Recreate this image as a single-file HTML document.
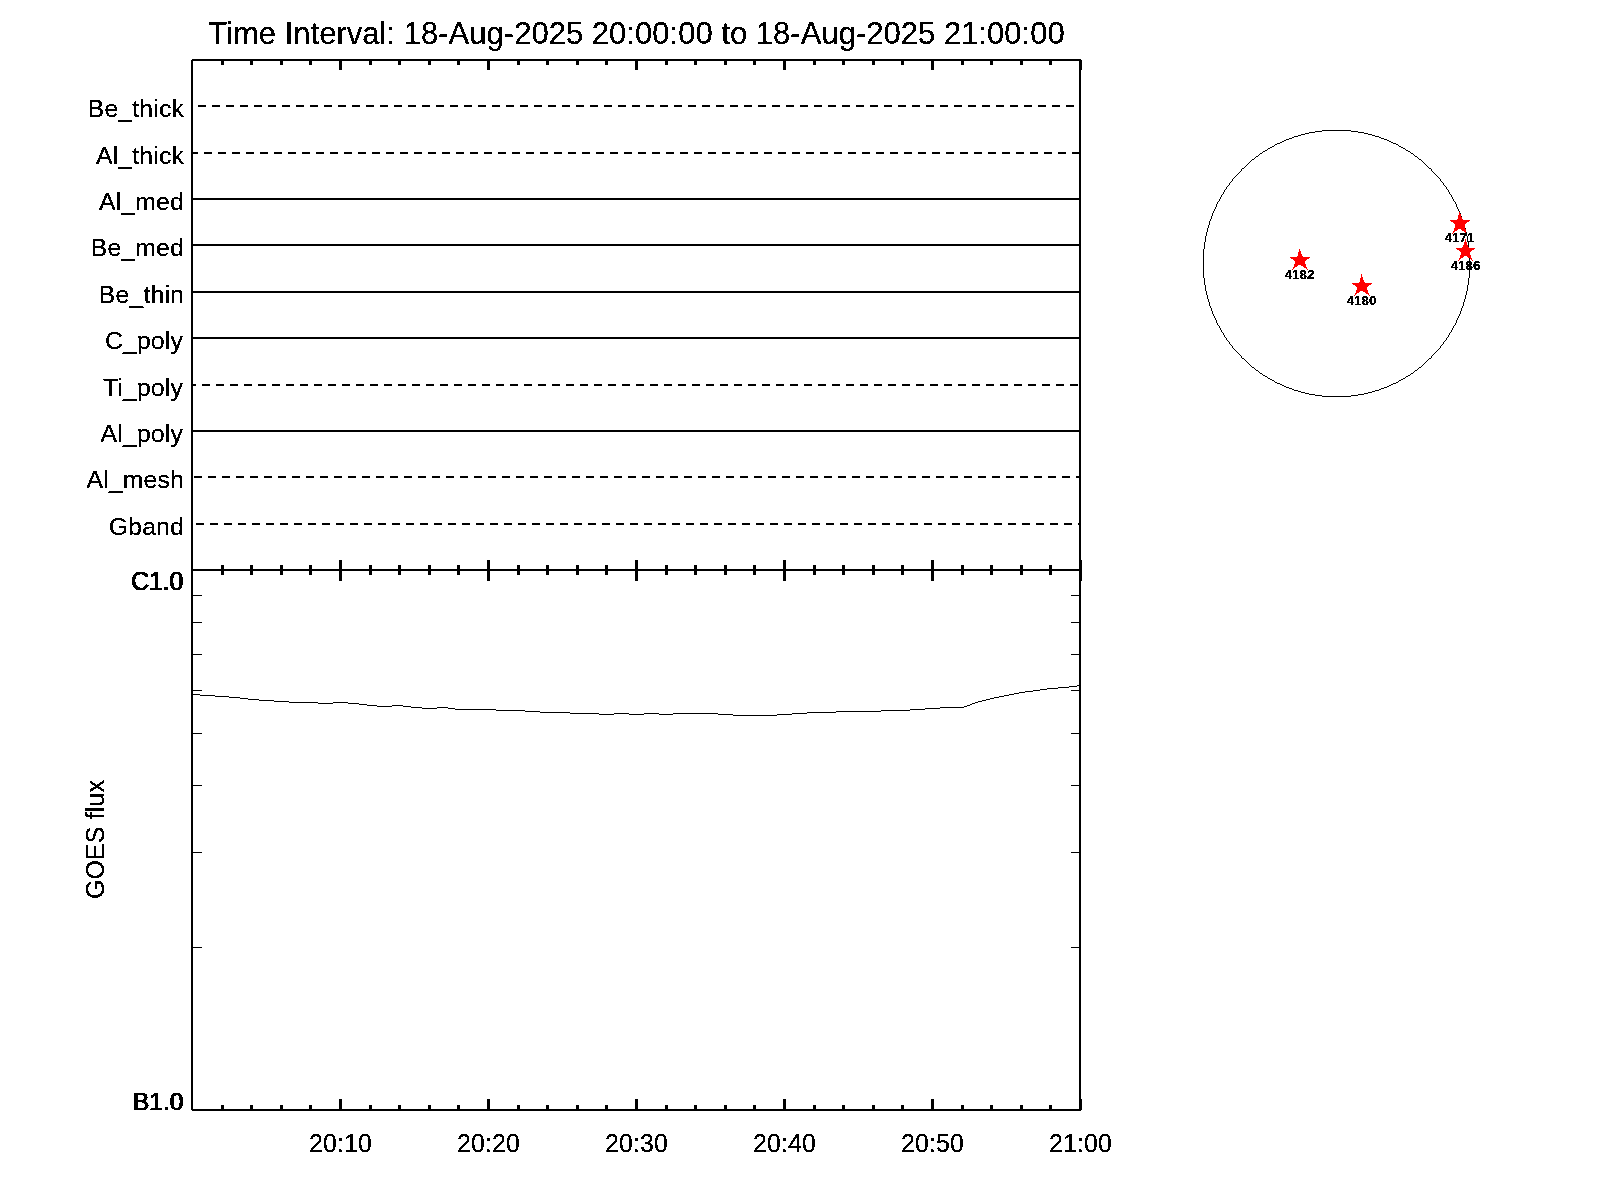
<!DOCTYPE html>
<html><head><meta charset="utf-8"><title>Time Interval plot</title>
<style>html,body{margin:0;padding:0;background:#fff;}svg{display:block;}text{font-family:"Liberation Sans",sans-serif;fill:#000;}</style>
</head><body>
<svg width="1600" height="1200" viewBox="0 0 1600 1200">
<defs><filter id="bin" x="-5%" y="-20%" width="110%" height="140%" color-interpolation-filters="sRGB"><feComponentTransfer><feFuncA type="discrete" tableValues="0 1 1"/></feComponentTransfer></filter></defs>
<rect x="0" y="0" width="1600" height="1200" fill="#fff"/>
<g fill="#000" shape-rendering="crispEdges">
<rect x="191" y="59" width="2" height="1052"/>
<rect x="1079" y="59" width="2" height="1052"/>
<rect x="191" y="59" width="890" height="2"/>
<rect x="191" y="569" width="890" height="2"/>
<rect x="191" y="1109" width="890" height="2"/>
<rect x="221" y="59" width="3" height="6"/>
<rect x="221" y="565" width="3" height="10"/>
<rect x="221" y="1105" width="3" height="6"/>
<rect x="250" y="59" width="3" height="6"/>
<rect x="250" y="565" width="3" height="10"/>
<rect x="250" y="1105" width="3" height="6"/>
<rect x="280" y="59" width="3" height="6"/>
<rect x="280" y="565" width="3" height="10"/>
<rect x="280" y="1105" width="3" height="6"/>
<rect x="309" y="59" width="3" height="6"/>
<rect x="309" y="565" width="3" height="10"/>
<rect x="309" y="1105" width="3" height="6"/>
<rect x="339" y="59" width="3" height="11"/>
<rect x="339" y="560" width="3" height="21"/>
<rect x="339" y="1099" width="3" height="12"/>
<rect x="369" y="59" width="3" height="6"/>
<rect x="369" y="565" width="3" height="10"/>
<rect x="369" y="1105" width="3" height="6"/>
<rect x="398" y="59" width="3" height="6"/>
<rect x="398" y="565" width="3" height="10"/>
<rect x="398" y="1105" width="3" height="6"/>
<rect x="428" y="59" width="3" height="6"/>
<rect x="428" y="565" width="3" height="10"/>
<rect x="428" y="1105" width="3" height="6"/>
<rect x="457" y="59" width="3" height="6"/>
<rect x="457" y="565" width="3" height="10"/>
<rect x="457" y="1105" width="3" height="6"/>
<rect x="487" y="59" width="3" height="11"/>
<rect x="487" y="560" width="3" height="21"/>
<rect x="487" y="1099" width="3" height="12"/>
<rect x="517" y="59" width="3" height="6"/>
<rect x="517" y="565" width="3" height="10"/>
<rect x="517" y="1105" width="3" height="6"/>
<rect x="546" y="59" width="3" height="6"/>
<rect x="546" y="565" width="3" height="10"/>
<rect x="546" y="1105" width="3" height="6"/>
<rect x="576" y="59" width="3" height="6"/>
<rect x="576" y="565" width="3" height="10"/>
<rect x="576" y="1105" width="3" height="6"/>
<rect x="605" y="59" width="3" height="6"/>
<rect x="605" y="565" width="3" height="10"/>
<rect x="605" y="1105" width="3" height="6"/>
<rect x="635" y="59" width="3" height="11"/>
<rect x="635" y="560" width="3" height="21"/>
<rect x="635" y="1099" width="3" height="12"/>
<rect x="665" y="59" width="3" height="6"/>
<rect x="665" y="565" width="3" height="10"/>
<rect x="665" y="1105" width="3" height="6"/>
<rect x="694" y="59" width="3" height="6"/>
<rect x="694" y="565" width="3" height="10"/>
<rect x="694" y="1105" width="3" height="6"/>
<rect x="724" y="59" width="3" height="6"/>
<rect x="724" y="565" width="3" height="10"/>
<rect x="724" y="1105" width="3" height="6"/>
<rect x="753" y="59" width="3" height="6"/>
<rect x="753" y="565" width="3" height="10"/>
<rect x="753" y="1105" width="3" height="6"/>
<rect x="783" y="59" width="3" height="11"/>
<rect x="783" y="560" width="3" height="21"/>
<rect x="783" y="1099" width="3" height="12"/>
<rect x="813" y="59" width="3" height="6"/>
<rect x="813" y="565" width="3" height="10"/>
<rect x="813" y="1105" width="3" height="6"/>
<rect x="842" y="59" width="3" height="6"/>
<rect x="842" y="565" width="3" height="10"/>
<rect x="842" y="1105" width="3" height="6"/>
<rect x="872" y="59" width="3" height="6"/>
<rect x="872" y="565" width="3" height="10"/>
<rect x="872" y="1105" width="3" height="6"/>
<rect x="901" y="59" width="3" height="6"/>
<rect x="901" y="565" width="3" height="10"/>
<rect x="901" y="1105" width="3" height="6"/>
<rect x="931" y="59" width="3" height="11"/>
<rect x="931" y="560" width="3" height="21"/>
<rect x="931" y="1099" width="3" height="12"/>
<rect x="961" y="59" width="3" height="6"/>
<rect x="961" y="565" width="3" height="10"/>
<rect x="961" y="1105" width="3" height="6"/>
<rect x="990" y="59" width="3" height="6"/>
<rect x="990" y="565" width="3" height="10"/>
<rect x="990" y="1105" width="3" height="6"/>
<rect x="1020" y="59" width="3" height="6"/>
<rect x="1020" y="565" width="3" height="10"/>
<rect x="1020" y="1105" width="3" height="6"/>
<rect x="1049" y="59" width="3" height="6"/>
<rect x="1049" y="565" width="3" height="10"/>
<rect x="1049" y="1105" width="3" height="6"/>
<rect x="1079" y="59" width="3" height="11"/>
<rect x="1079" y="560" width="3" height="21"/>
<rect x="1079" y="1099" width="3" height="12"/>
<rect x="193" y="947" width="9" height="1"/>
<rect x="1071" y="947" width="8" height="1"/>
<rect x="193" y="852" width="9" height="1"/>
<rect x="1071" y="852" width="8" height="1"/>
<rect x="193" y="785" width="9" height="1"/>
<rect x="1071" y="785" width="8" height="1"/>
<rect x="193" y="733" width="9" height="1"/>
<rect x="1071" y="733" width="8" height="1"/>
<rect x="193" y="690" width="9" height="1"/>
<rect x="1071" y="690" width="8" height="1"/>
<rect x="193" y="654" width="9" height="1"/>
<rect x="1071" y="654" width="8" height="1"/>
<rect x="193" y="622" width="9" height="1"/>
<rect x="1071" y="622" width="8" height="1"/>
<rect x="193" y="595" width="9" height="1"/>
<rect x="1071" y="595" width="8" height="1"/>
<rect x="198" y="105" width="8" height="2"/>
<rect x="212" y="105" width="8" height="2"/>
<rect x="226" y="105" width="8" height="2"/>
<rect x="240" y="105" width="8" height="2"/>
<rect x="254" y="105" width="8" height="2"/>
<rect x="268" y="105" width="8" height="2"/>
<rect x="282" y="105" width="8" height="2"/>
<rect x="296" y="105" width="8" height="2"/>
<rect x="310" y="105" width="8" height="2"/>
<rect x="324" y="105" width="8" height="2"/>
<rect x="338" y="105" width="8" height="2"/>
<rect x="352" y="105" width="8" height="2"/>
<rect x="366" y="105" width="8" height="2"/>
<rect x="380" y="105" width="8" height="2"/>
<rect x="394" y="105" width="8" height="2"/>
<rect x="408" y="105" width="8" height="2"/>
<rect x="422" y="105" width="8" height="2"/>
<rect x="436" y="105" width="8" height="2"/>
<rect x="450" y="105" width="8" height="2"/>
<rect x="464" y="105" width="8" height="2"/>
<rect x="478" y="105" width="8" height="2"/>
<rect x="492" y="105" width="8" height="2"/>
<rect x="506" y="105" width="8" height="2"/>
<rect x="520" y="105" width="8" height="2"/>
<rect x="534" y="105" width="8" height="2"/>
<rect x="548" y="105" width="8" height="2"/>
<rect x="562" y="105" width="8" height="2"/>
<rect x="576" y="105" width="8" height="2"/>
<rect x="590" y="105" width="8" height="2"/>
<rect x="604" y="105" width="8" height="2"/>
<rect x="618" y="105" width="8" height="2"/>
<rect x="632" y="105" width="8" height="2"/>
<rect x="646" y="105" width="8" height="2"/>
<rect x="660" y="105" width="8" height="2"/>
<rect x="674" y="105" width="8" height="2"/>
<rect x="688" y="105" width="8" height="2"/>
<rect x="702" y="105" width="8" height="2"/>
<rect x="716" y="105" width="8" height="2"/>
<rect x="730" y="105" width="8" height="2"/>
<rect x="744" y="105" width="8" height="2"/>
<rect x="758" y="105" width="8" height="2"/>
<rect x="772" y="105" width="8" height="2"/>
<rect x="786" y="105" width="8" height="2"/>
<rect x="800" y="105" width="8" height="2"/>
<rect x="814" y="105" width="8" height="2"/>
<rect x="828" y="105" width="8" height="2"/>
<rect x="842" y="105" width="8" height="2"/>
<rect x="856" y="105" width="8" height="2"/>
<rect x="870" y="105" width="8" height="2"/>
<rect x="884" y="105" width="8" height="2"/>
<rect x="898" y="105" width="8" height="2"/>
<rect x="912" y="105" width="8" height="2"/>
<rect x="926" y="105" width="8" height="2"/>
<rect x="940" y="105" width="8" height="2"/>
<rect x="954" y="105" width="8" height="2"/>
<rect x="968" y="105" width="8" height="2"/>
<rect x="982" y="105" width="8" height="2"/>
<rect x="996" y="105" width="8" height="2"/>
<rect x="1010" y="105" width="8" height="2"/>
<rect x="1024" y="105" width="8" height="2"/>
<rect x="1038" y="105" width="8" height="2"/>
<rect x="1052" y="105" width="8" height="2"/>
<rect x="1066" y="105" width="8" height="2"/>
<rect x="193" y="152" width="5" height="2"/>
<rect x="204" y="152" width="8" height="2"/>
<rect x="218" y="152" width="8" height="2"/>
<rect x="232" y="152" width="8" height="2"/>
<rect x="246" y="152" width="8" height="2"/>
<rect x="260" y="152" width="8" height="2"/>
<rect x="274" y="152" width="8" height="2"/>
<rect x="288" y="152" width="8" height="2"/>
<rect x="302" y="152" width="8" height="2"/>
<rect x="316" y="152" width="8" height="2"/>
<rect x="330" y="152" width="8" height="2"/>
<rect x="344" y="152" width="8" height="2"/>
<rect x="358" y="152" width="8" height="2"/>
<rect x="372" y="152" width="8" height="2"/>
<rect x="386" y="152" width="8" height="2"/>
<rect x="400" y="152" width="8" height="2"/>
<rect x="414" y="152" width="8" height="2"/>
<rect x="428" y="152" width="8" height="2"/>
<rect x="442" y="152" width="8" height="2"/>
<rect x="456" y="152" width="8" height="2"/>
<rect x="470" y="152" width="8" height="2"/>
<rect x="484" y="152" width="8" height="2"/>
<rect x="498" y="152" width="8" height="2"/>
<rect x="512" y="152" width="8" height="2"/>
<rect x="526" y="152" width="8" height="2"/>
<rect x="540" y="152" width="8" height="2"/>
<rect x="554" y="152" width="8" height="2"/>
<rect x="568" y="152" width="8" height="2"/>
<rect x="582" y="152" width="8" height="2"/>
<rect x="596" y="152" width="8" height="2"/>
<rect x="610" y="152" width="8" height="2"/>
<rect x="624" y="152" width="8" height="2"/>
<rect x="638" y="152" width="8" height="2"/>
<rect x="652" y="152" width="8" height="2"/>
<rect x="666" y="152" width="8" height="2"/>
<rect x="680" y="152" width="8" height="2"/>
<rect x="694" y="152" width="8" height="2"/>
<rect x="708" y="152" width="8" height="2"/>
<rect x="722" y="152" width="8" height="2"/>
<rect x="736" y="152" width="8" height="2"/>
<rect x="750" y="152" width="8" height="2"/>
<rect x="764" y="152" width="8" height="2"/>
<rect x="778" y="152" width="8" height="2"/>
<rect x="792" y="152" width="8" height="2"/>
<rect x="806" y="152" width="8" height="2"/>
<rect x="820" y="152" width="8" height="2"/>
<rect x="834" y="152" width="8" height="2"/>
<rect x="848" y="152" width="8" height="2"/>
<rect x="862" y="152" width="8" height="2"/>
<rect x="876" y="152" width="8" height="2"/>
<rect x="890" y="152" width="8" height="2"/>
<rect x="904" y="152" width="8" height="2"/>
<rect x="918" y="152" width="8" height="2"/>
<rect x="932" y="152" width="8" height="2"/>
<rect x="946" y="152" width="8" height="2"/>
<rect x="960" y="152" width="8" height="2"/>
<rect x="974" y="152" width="8" height="2"/>
<rect x="988" y="152" width="8" height="2"/>
<rect x="1002" y="152" width="8" height="2"/>
<rect x="1016" y="152" width="8" height="2"/>
<rect x="1030" y="152" width="8" height="2"/>
<rect x="1044" y="152" width="8" height="2"/>
<rect x="1058" y="152" width="8" height="2"/>
<rect x="1072" y="152" width="7" height="2"/>
<rect x="193" y="198" width="886" height="2"/>
<rect x="193" y="244" width="886" height="2"/>
<rect x="193" y="291" width="886" height="2"/>
<rect x="193" y="337" width="886" height="2"/>
<rect x="193" y="384" width="3" height="2"/>
<rect x="202" y="384" width="8" height="2"/>
<rect x="216" y="384" width="8" height="2"/>
<rect x="230" y="384" width="8" height="2"/>
<rect x="244" y="384" width="8" height="2"/>
<rect x="258" y="384" width="8" height="2"/>
<rect x="272" y="384" width="8" height="2"/>
<rect x="286" y="384" width="8" height="2"/>
<rect x="300" y="384" width="8" height="2"/>
<rect x="314" y="384" width="8" height="2"/>
<rect x="328" y="384" width="8" height="2"/>
<rect x="342" y="384" width="8" height="2"/>
<rect x="356" y="384" width="8" height="2"/>
<rect x="370" y="384" width="8" height="2"/>
<rect x="384" y="384" width="8" height="2"/>
<rect x="398" y="384" width="8" height="2"/>
<rect x="412" y="384" width="8" height="2"/>
<rect x="426" y="384" width="8" height="2"/>
<rect x="440" y="384" width="8" height="2"/>
<rect x="454" y="384" width="8" height="2"/>
<rect x="468" y="384" width="8" height="2"/>
<rect x="482" y="384" width="8" height="2"/>
<rect x="496" y="384" width="8" height="2"/>
<rect x="510" y="384" width="8" height="2"/>
<rect x="524" y="384" width="8" height="2"/>
<rect x="538" y="384" width="8" height="2"/>
<rect x="552" y="384" width="8" height="2"/>
<rect x="566" y="384" width="8" height="2"/>
<rect x="580" y="384" width="8" height="2"/>
<rect x="594" y="384" width="8" height="2"/>
<rect x="608" y="384" width="8" height="2"/>
<rect x="622" y="384" width="8" height="2"/>
<rect x="636" y="384" width="8" height="2"/>
<rect x="650" y="384" width="8" height="2"/>
<rect x="664" y="384" width="8" height="2"/>
<rect x="678" y="384" width="8" height="2"/>
<rect x="692" y="384" width="8" height="2"/>
<rect x="706" y="384" width="8" height="2"/>
<rect x="720" y="384" width="8" height="2"/>
<rect x="734" y="384" width="8" height="2"/>
<rect x="748" y="384" width="8" height="2"/>
<rect x="762" y="384" width="8" height="2"/>
<rect x="776" y="384" width="8" height="2"/>
<rect x="790" y="384" width="8" height="2"/>
<rect x="804" y="384" width="8" height="2"/>
<rect x="818" y="384" width="8" height="2"/>
<rect x="832" y="384" width="8" height="2"/>
<rect x="846" y="384" width="8" height="2"/>
<rect x="860" y="384" width="8" height="2"/>
<rect x="874" y="384" width="8" height="2"/>
<rect x="888" y="384" width="8" height="2"/>
<rect x="902" y="384" width="8" height="2"/>
<rect x="916" y="384" width="8" height="2"/>
<rect x="930" y="384" width="8" height="2"/>
<rect x="944" y="384" width="8" height="2"/>
<rect x="958" y="384" width="8" height="2"/>
<rect x="972" y="384" width="8" height="2"/>
<rect x="986" y="384" width="8" height="2"/>
<rect x="1000" y="384" width="8" height="2"/>
<rect x="1014" y="384" width="8" height="2"/>
<rect x="1028" y="384" width="8" height="2"/>
<rect x="1042" y="384" width="8" height="2"/>
<rect x="1056" y="384" width="8" height="2"/>
<rect x="1070" y="384" width="8" height="2"/>
<rect x="193" y="430" width="886" height="2"/>
<rect x="194" y="476" width="8" height="2"/>
<rect x="208" y="476" width="8" height="2"/>
<rect x="222" y="476" width="8" height="2"/>
<rect x="236" y="476" width="8" height="2"/>
<rect x="250" y="476" width="8" height="2"/>
<rect x="264" y="476" width="8" height="2"/>
<rect x="278" y="476" width="8" height="2"/>
<rect x="292" y="476" width="8" height="2"/>
<rect x="306" y="476" width="8" height="2"/>
<rect x="320" y="476" width="8" height="2"/>
<rect x="334" y="476" width="8" height="2"/>
<rect x="348" y="476" width="8" height="2"/>
<rect x="362" y="476" width="8" height="2"/>
<rect x="376" y="476" width="8" height="2"/>
<rect x="390" y="476" width="8" height="2"/>
<rect x="404" y="476" width="8" height="2"/>
<rect x="418" y="476" width="8" height="2"/>
<rect x="432" y="476" width="8" height="2"/>
<rect x="446" y="476" width="8" height="2"/>
<rect x="460" y="476" width="8" height="2"/>
<rect x="474" y="476" width="8" height="2"/>
<rect x="488" y="476" width="8" height="2"/>
<rect x="502" y="476" width="8" height="2"/>
<rect x="516" y="476" width="8" height="2"/>
<rect x="530" y="476" width="8" height="2"/>
<rect x="544" y="476" width="8" height="2"/>
<rect x="558" y="476" width="8" height="2"/>
<rect x="572" y="476" width="8" height="2"/>
<rect x="586" y="476" width="8" height="2"/>
<rect x="600" y="476" width="8" height="2"/>
<rect x="614" y="476" width="8" height="2"/>
<rect x="628" y="476" width="8" height="2"/>
<rect x="642" y="476" width="8" height="2"/>
<rect x="656" y="476" width="8" height="2"/>
<rect x="670" y="476" width="8" height="2"/>
<rect x="684" y="476" width="8" height="2"/>
<rect x="698" y="476" width="8" height="2"/>
<rect x="712" y="476" width="8" height="2"/>
<rect x="726" y="476" width="8" height="2"/>
<rect x="740" y="476" width="8" height="2"/>
<rect x="754" y="476" width="8" height="2"/>
<rect x="768" y="476" width="8" height="2"/>
<rect x="782" y="476" width="8" height="2"/>
<rect x="796" y="476" width="8" height="2"/>
<rect x="810" y="476" width="8" height="2"/>
<rect x="824" y="476" width="8" height="2"/>
<rect x="838" y="476" width="8" height="2"/>
<rect x="852" y="476" width="8" height="2"/>
<rect x="866" y="476" width="8" height="2"/>
<rect x="880" y="476" width="8" height="2"/>
<rect x="894" y="476" width="8" height="2"/>
<rect x="908" y="476" width="8" height="2"/>
<rect x="922" y="476" width="8" height="2"/>
<rect x="936" y="476" width="8" height="2"/>
<rect x="950" y="476" width="8" height="2"/>
<rect x="964" y="476" width="8" height="2"/>
<rect x="978" y="476" width="8" height="2"/>
<rect x="992" y="476" width="8" height="2"/>
<rect x="1006" y="476" width="8" height="2"/>
<rect x="1020" y="476" width="8" height="2"/>
<rect x="1034" y="476" width="8" height="2"/>
<rect x="1048" y="476" width="8" height="2"/>
<rect x="1062" y="476" width="8" height="2"/>
<rect x="1076" y="476" width="3" height="2"/>
<rect x="196" y="523" width="8" height="2"/>
<rect x="210" y="523" width="8" height="2"/>
<rect x="224" y="523" width="8" height="2"/>
<rect x="238" y="523" width="8" height="2"/>
<rect x="252" y="523" width="8" height="2"/>
<rect x="266" y="523" width="8" height="2"/>
<rect x="280" y="523" width="8" height="2"/>
<rect x="294" y="523" width="8" height="2"/>
<rect x="308" y="523" width="8" height="2"/>
<rect x="322" y="523" width="8" height="2"/>
<rect x="336" y="523" width="8" height="2"/>
<rect x="350" y="523" width="8" height="2"/>
<rect x="364" y="523" width="8" height="2"/>
<rect x="378" y="523" width="8" height="2"/>
<rect x="392" y="523" width="8" height="2"/>
<rect x="406" y="523" width="8" height="2"/>
<rect x="420" y="523" width="8" height="2"/>
<rect x="434" y="523" width="8" height="2"/>
<rect x="448" y="523" width="8" height="2"/>
<rect x="462" y="523" width="8" height="2"/>
<rect x="476" y="523" width="8" height="2"/>
<rect x="490" y="523" width="8" height="2"/>
<rect x="504" y="523" width="8" height="2"/>
<rect x="518" y="523" width="8" height="2"/>
<rect x="532" y="523" width="8" height="2"/>
<rect x="546" y="523" width="8" height="2"/>
<rect x="560" y="523" width="8" height="2"/>
<rect x="574" y="523" width="8" height="2"/>
<rect x="588" y="523" width="8" height="2"/>
<rect x="602" y="523" width="8" height="2"/>
<rect x="616" y="523" width="8" height="2"/>
<rect x="630" y="523" width="8" height="2"/>
<rect x="644" y="523" width="8" height="2"/>
<rect x="658" y="523" width="8" height="2"/>
<rect x="672" y="523" width="8" height="2"/>
<rect x="686" y="523" width="8" height="2"/>
<rect x="700" y="523" width="8" height="2"/>
<rect x="714" y="523" width="8" height="2"/>
<rect x="728" y="523" width="8" height="2"/>
<rect x="742" y="523" width="8" height="2"/>
<rect x="756" y="523" width="8" height="2"/>
<rect x="770" y="523" width="8" height="2"/>
<rect x="784" y="523" width="8" height="2"/>
<rect x="798" y="523" width="8" height="2"/>
<rect x="812" y="523" width="8" height="2"/>
<rect x="826" y="523" width="8" height="2"/>
<rect x="840" y="523" width="8" height="2"/>
<rect x="854" y="523" width="8" height="2"/>
<rect x="868" y="523" width="8" height="2"/>
<rect x="882" y="523" width="8" height="2"/>
<rect x="896" y="523" width="8" height="2"/>
<rect x="910" y="523" width="8" height="2"/>
<rect x="924" y="523" width="8" height="2"/>
<rect x="938" y="523" width="8" height="2"/>
<rect x="952" y="523" width="8" height="2"/>
<rect x="966" y="523" width="8" height="2"/>
<rect x="980" y="523" width="8" height="2"/>
<rect x="994" y="523" width="8" height="2"/>
<rect x="1008" y="523" width="8" height="2"/>
<rect x="1022" y="523" width="8" height="2"/>
<rect x="1036" y="523" width="8" height="2"/>
<rect x="1050" y="523" width="8" height="2"/>
<rect x="1064" y="523" width="8" height="2"/>
<rect x="1078" y="523" width="1" height="2"/>
</g>
<g fill="#fff" shape-rendering="crispEdges"><rect x="191" y="59" width="1" height="1"/><rect x="191" y="1110" width="1" height="1"/><rect x="1081" y="1110" width="1" height="1"/><rect x="1081" y="59" width="1" height="1"/></g>
<g fill="#000" shape-rendering="crispEdges">
<rect x="193" y="694" width="7" height="1"/>
<rect x="200" y="695" width="15" height="1"/>
<rect x="215" y="696" width="14" height="1"/>
<rect x="229" y="697" width="11" height="1"/>
<rect x="240" y="698" width="8" height="1"/>
<rect x="248" y="699" width="11" height="1"/>
<rect x="259" y="700" width="15" height="1"/>
<rect x="274" y="701" width="15" height="1"/>
<rect x="289" y="702" width="29" height="1"/>
<rect x="318" y="703" width="15" height="1"/>
<rect x="333" y="702" width="15" height="1"/>
<rect x="348" y="703" width="11" height="1"/>
<rect x="359" y="704" width="8" height="1"/>
<rect x="367" y="705" width="10" height="1"/>
<rect x="377" y="706" width="15" height="1"/>
<rect x="392" y="705" width="11" height="1"/>
<rect x="403" y="706" width="8" height="1"/>
<rect x="411" y="707" width="11" height="1"/>
<rect x="422" y="708" width="15" height="1"/>
<rect x="437" y="707" width="11" height="1"/>
<rect x="448" y="708" width="7" height="1"/>
<rect x="455" y="709" width="41" height="1"/>
<rect x="496" y="710" width="29" height="1"/>
<rect x="525" y="711" width="15" height="1"/>
<rect x="540" y="712" width="30" height="1"/>
<rect x="570" y="713" width="29" height="1"/>
<rect x="599" y="714" width="15" height="1"/>
<rect x="614" y="713" width="15" height="1"/>
<rect x="629" y="714" width="15" height="1"/>
<rect x="644" y="713" width="15" height="1"/>
<rect x="659" y="714" width="14" height="1"/>
<rect x="673" y="713" width="45" height="1"/>
<rect x="718" y="714" width="15" height="1"/>
<rect x="733" y="715" width="44" height="1"/>
<rect x="777" y="714" width="15" height="1"/>
<rect x="792" y="713" width="15" height="1"/>
<rect x="807" y="712" width="29" height="1"/>
<rect x="836" y="711" width="45" height="1"/>
<rect x="881" y="710" width="29" height="1"/>
<rect x="910" y="709" width="15" height="1"/>
<rect x="925" y="708" width="15" height="1"/>
<rect x="940" y="707" width="24" height="1"/>
<rect x="964" y="706" width="3" height="1"/>
<rect x="967" y="705" width="3" height="1"/>
<rect x="970" y="704" width="2" height="1"/>
<rect x="972" y="703" width="3" height="1"/>
<rect x="975" y="702" width="3" height="1"/>
<rect x="978" y="701" width="4" height="1"/>
<rect x="982" y="700" width="4" height="1"/>
<rect x="986" y="699" width="4" height="1"/>
<rect x="990" y="698" width="4" height="1"/>
<rect x="994" y="697" width="5" height="1"/>
<rect x="999" y="696" width="5" height="1"/>
<rect x="1004" y="695" width="5" height="1"/>
<rect x="1009" y="694" width="5" height="1"/>
<rect x="1014" y="693" width="5" height="1"/>
<rect x="1019" y="692" width="6" height="1"/>
<rect x="1025" y="691" width="8" height="1"/>
<rect x="1033" y="690" width="7" height="1"/>
<rect x="1040" y="689" width="7" height="1"/>
<rect x="1047" y="688" width="11" height="1"/>
<rect x="1058" y="687" width="11" height="1"/>
<rect x="1069" y="686" width="8" height="1"/>
<rect x="1077" y="685" width="2" height="1"/>
</g>
<g filter="url(#bin)">
<text x="636.5" y="44" font-size="31" letter-spacing="0.02" text-anchor="middle">Time Interval: 18-Aug-2025 20:00:00 to 18-Aug-2025 21:00:00</text>
<text x="184" y="117" font-size="24.8" letter-spacing="0.15" text-anchor="end">Be_thick</text>
<text x="184" y="164" font-size="24.8" letter-spacing="0.15" text-anchor="end">Al_thick</text>
<text x="184" y="210" font-size="24.8" letter-spacing="0.15" text-anchor="end">Al_med</text>
<text x="184" y="256" font-size="24.8" letter-spacing="0.15" text-anchor="end">Be_med</text>
<text x="184" y="303" font-size="24.8" letter-spacing="0.15" text-anchor="end">Be_thin</text>
<text x="183" y="349" font-size="24.8" letter-spacing="0.15" text-anchor="end">C_poly</text>
<text x="183" y="396" font-size="24.8" letter-spacing="0.15" text-anchor="end">Ti_poly</text>
<text x="183" y="442" font-size="24.8" letter-spacing="0.15" text-anchor="end">Al_poly</text>
<text x="184" y="488" font-size="24.8" letter-spacing="0.15" text-anchor="end">Al_mesh</text>
<text x="184" y="535" font-size="24.8" letter-spacing="0.15" text-anchor="end">Gband</text>
<text x="183.8" y="589.5" font-size="25" letter-spacing="-0.15" text-anchor="end">C1.0</text>
<text x="183.3" y="589.5" font-size="25" letter-spacing="-0.15" text-anchor="end">C1.0</text>
<text x="182.8" y="589.5" font-size="25" letter-spacing="-0.15" text-anchor="end">C1.0</text>
<text x="184.0" y="1110" font-size="24.7" text-anchor="end">B1.0</text>
<text x="183.5" y="1110" font-size="24.7" text-anchor="end">B1.0</text>
<text x="183.0" y="1110" font-size="24.7" text-anchor="end">B1.0</text>
<text x="340.5" y="1151.5" font-size="25" letter-spacing="0.12" text-anchor="middle">20:10</text>
<text x="488.5" y="1151.5" font-size="25" letter-spacing="0.12" text-anchor="middle">20:20</text>
<text x="636.5" y="1151.5" font-size="25" letter-spacing="0.12" text-anchor="middle">20:30</text>
<text x="784.5" y="1151.5" font-size="25" letter-spacing="0.12" text-anchor="middle">20:40</text>
<text x="932.5" y="1151.5" font-size="25" letter-spacing="0.12" text-anchor="middle">20:50</text>
<text x="1080.5" y="1151.5" font-size="25" letter-spacing="0.12" text-anchor="middle">21:00</text>
<text transform="translate(104,839.5) rotate(-90)" font-size="25" letter-spacing="0.12" text-anchor="middle">GOES flux</text>
</g>
<path fill="#000" shape-rendering="crispEdges" d="M1322 130h29v1h-29zM1315 131h7v1h-7zM1351 131h7v1h-7zM1309 132h6v1h-6zM1358 132h6v1h-6zM1305 133h4v1h-4zM1364 133h4v1h-4zM1301 134h4v1h-4zM1368 134h4v1h-4zM1298 135h3v1h-3zM1372 135h3v1h-3zM1294 136h4v1h-4zM1375 136h4v1h-4zM1292 137h2v1h-2zM1379 137h2v1h-2zM1289 138h3v1h-3zM1381 138h3v1h-3zM1286 139h3v1h-3zM1384 139h3v1h-3zM1284 140h2v1h-2zM1387 140h2v1h-2zM1282 141h2v1h-2zM1389 141h2v1h-2zM1280 142h2v1h-2zM1391 142h2v1h-2zM1277 143h3v1h-3zM1393 143h3v1h-3zM1275 144h2v1h-2zM1396 144h2v1h-2zM1274 145h1v1h-1zM1398 145h1v1h-1zM1272 146h2v1h-2zM1399 146h2v1h-2zM1270 147h2v1h-2zM1401 147h2v1h-2zM1268 148h2v1h-2zM1403 148h2v1h-2zM1267 149h1v1h-1zM1405 149h1v1h-1zM1265 150h2v1h-2zM1406 150h2v1h-2zM1263 151h2v1h-2zM1408 151h2v1h-2zM1262 152h1v1h-1zM1410 152h1v1h-1zM1260 153h2v1h-2zM1411 153h2v1h-2zM1259 154h1v1h-1zM1413 154h1v1h-1zM1258 155h1v1h-1zM1414 155h1v1h-1zM1256 156h2v1h-2zM1415 156h2v1h-2zM1255 157h1v1h-1zM1417 157h1v1h-1zM1254 158h1v1h-1zM1418 158h1v1h-1zM1252 159h2v1h-2zM1419 159h2v1h-2zM1251 160h1v1h-1zM1421 160h1v1h-1zM1250 161h1v1h-1zM1422 161h1v1h-1zM1249 162h1v1h-1zM1423 162h1v1h-1zM1248 163h1v1h-1zM1424 163h1v1h-1zM1247 164h1v1h-1zM1425 164h1v1h-1zM1246 165h1v1h-1zM1426 165h1v1h-1zM1245 166h1v1h-1zM1427 166h1v1h-1zM1244 167h1v1h-1zM1428 167h1v1h-1zM1242 168h2v1h-2zM1429 168h2v1h-2zM1241 169h1v1h-1zM1431 169h1v1h-1zM1241 170h1v1h-1zM1431 170h1v1h-1zM1240 171h1v1h-1zM1432 171h1v1h-1zM1239 172h1v1h-1zM1433 172h1v1h-1zM1238 173h1v1h-1zM1434 173h1v1h-1zM1237 174h1v1h-1zM1435 174h1v1h-1zM1236 175h1v1h-1zM1436 175h1v1h-1zM1235 176h1v1h-1zM1437 176h1v1h-1zM1234 177h1v1h-1zM1438 177h1v1h-1zM1233 178h1v1h-1zM1439 178h1v1h-1zM1232 179h1v1h-1zM1440 179h1v1h-1zM1232 180h1v1h-1zM1440 180h1v1h-1zM1231 181h1v1h-1zM1441 181h1v1h-1zM1230 182h1v1h-1zM1442 182h1v1h-1zM1229 183h1v1h-1zM1443 183h1v1h-1zM1229 184h1v1h-1zM1443 184h1v1h-1zM1228 185h1v1h-1zM1444 185h1v1h-1zM1227 186h1v1h-1zM1445 186h1v1h-1zM1226 187h1v1h-1zM1446 187h1v1h-1zM1226 188h1v1h-1zM1446 188h1v1h-1zM1225 189h1v1h-1zM1447 189h1v1h-1zM1224 190h1v1h-1zM1448 190h1v1h-1zM1224 191h1v1h-1zM1448 191h1v1h-1zM1223 192h1v1h-1zM1449 192h1v1h-1zM1223 193h1v1h-1zM1449 193h1v1h-1zM1222 194h1v1h-1zM1450 194h1v1h-1zM1221 195h1v1h-1zM1451 195h1v1h-1zM1221 196h1v1h-1zM1451 196h1v1h-1zM1220 197h1v1h-1zM1452 197h1v1h-1zM1220 198h1v1h-1zM1452 198h1v1h-1zM1219 199h1v1h-1zM1453 199h1v1h-1zM1219 200h1v1h-1zM1453 200h1v1h-1zM1218 201h1v1h-1zM1454 201h1v1h-1zM1217 202h1v1h-1zM1455 202h1v1h-1zM1217 203h1v1h-1zM1455 203h1v1h-1zM1216 204h1v1h-1zM1456 204h1v1h-1zM1216 205h1v1h-1zM1456 205h1v1h-1zM1216 206h1v1h-1zM1456 206h1v1h-1zM1215 207h1v1h-1zM1457 207h1v1h-1zM1215 208h1v1h-1zM1457 208h1v1h-1zM1214 209h1v1h-1zM1458 209h1v1h-1zM1214 210h1v1h-1zM1458 210h1v1h-1zM1213 211h1v1h-1zM1459 211h1v1h-1zM1213 212h1v1h-1zM1459 212h1v1h-1zM1212 213h1v1h-1zM1460 213h1v1h-1zM1212 214h1v1h-1zM1460 214h1v1h-1zM1212 215h1v1h-1zM1460 215h1v1h-1zM1211 216h1v1h-1zM1461 216h1v1h-1zM1211 217h1v1h-1zM1461 217h1v1h-1zM1211 218h1v1h-1zM1461 218h1v1h-1zM1210 219h1v1h-1zM1462 219h1v1h-1zM1210 220h1v1h-1zM1462 220h1v1h-1zM1209 221h1v1h-1zM1463 221h1v1h-1zM1209 222h1v1h-1zM1463 222h1v1h-1zM1209 223h1v1h-1zM1463 223h1v1h-1zM1209 224h1v1h-1zM1463 224h1v1h-1zM1208 225h1v1h-1zM1464 225h1v1h-1zM1208 226h1v1h-1zM1464 226h1v1h-1zM1208 227h1v1h-1zM1464 227h1v1h-1zM1207 228h1v1h-1zM1465 228h1v1h-1zM1207 229h1v1h-1zM1465 229h1v1h-1zM1207 230h1v1h-1zM1465 230h1v1h-1zM1207 231h1v1h-1zM1465 231h1v1h-1zM1206 232h1v1h-1zM1466 232h1v1h-1zM1206 233h1v1h-1zM1466 233h1v1h-1zM1206 234h1v1h-1zM1466 234h1v1h-1zM1206 235h1v1h-1zM1466 235h1v1h-1zM1205 236h1v1h-1zM1467 236h1v1h-1zM1205 237h1v1h-1zM1467 237h1v1h-1zM1205 238h1v1h-1zM1467 238h1v1h-1zM1205 239h1v1h-1zM1467 239h1v1h-1zM1205 240h1v1h-1zM1467 240h1v1h-1zM1205 241h1v1h-1zM1467 241h1v1h-1zM1204 242h1v1h-1zM1468 242h1v1h-1zM1204 243h1v1h-1zM1468 243h1v1h-1zM1204 244h1v1h-1zM1468 244h1v1h-1zM1204 245h1v1h-1zM1468 245h1v1h-1zM1204 246h1v1h-1zM1468 246h1v1h-1zM1204 247h1v1h-1zM1468 247h1v1h-1zM1204 248h1v1h-1zM1468 248h1v1h-1zM1203 249h1v1h-1zM1469 249h1v1h-1zM1203 250h1v1h-1zM1469 250h1v1h-1zM1203 251h1v1h-1zM1469 251h1v1h-1zM1203 252h1v1h-1zM1469 252h1v1h-1zM1203 253h1v1h-1zM1469 253h1v1h-1zM1203 254h1v1h-1zM1469 254h1v1h-1zM1203 255h1v1h-1zM1469 255h1v1h-1zM1203 256h1v1h-1zM1469 256h1v1h-1zM1203 257h1v1h-1zM1469 257h1v1h-1zM1203 258h1v1h-1zM1469 258h1v1h-1zM1203 259h1v1h-1zM1469 259h1v1h-1zM1203 260h1v1h-1zM1469 260h1v1h-1zM1203 261h1v1h-1zM1469 261h1v1h-1zM1203 262h1v1h-1zM1469 262h1v1h-1zM1203 263h1v1h-1zM1469 263h1v1h-1zM1203 264h1v1h-1zM1469 264h1v1h-1zM1203 265h1v1h-1zM1469 265h1v1h-1zM1203 266h1v1h-1zM1469 266h1v1h-1zM1203 267h1v1h-1zM1469 267h1v1h-1zM1203 268h1v1h-1zM1469 268h1v1h-1zM1203 269h1v1h-1zM1469 269h1v1h-1zM1203 270h1v1h-1zM1469 270h1v1h-1zM1203 271h1v1h-1zM1469 271h1v1h-1zM1203 272h1v1h-1zM1469 272h1v1h-1zM1203 273h1v1h-1zM1469 273h1v1h-1zM1203 274h1v1h-1zM1469 274h1v1h-1zM1203 275h1v1h-1zM1469 275h1v1h-1zM1203 276h1v1h-1zM1469 276h1v1h-1zM1203 277h1v1h-1zM1469 277h1v1h-1zM1204 278h1v1h-1zM1468 278h1v1h-1zM1204 279h1v1h-1zM1468 279h1v1h-1zM1204 280h1v1h-1zM1468 280h1v1h-1zM1204 281h1v1h-1zM1468 281h1v1h-1zM1204 282h1v1h-1zM1468 282h1v1h-1zM1204 283h1v1h-1zM1468 283h1v1h-1zM1204 284h1v1h-1zM1468 284h1v1h-1zM1205 285h1v1h-1zM1467 285h1v1h-1zM1205 286h1v1h-1zM1467 286h1v1h-1zM1205 287h1v1h-1zM1467 287h1v1h-1zM1205 288h1v1h-1zM1467 288h1v1h-1zM1205 289h1v1h-1zM1467 289h1v1h-1zM1205 290h1v1h-1zM1467 290h1v1h-1zM1206 291h1v1h-1zM1466 291h1v1h-1zM1206 292h1v1h-1zM1466 292h1v1h-1zM1206 293h1v1h-1zM1466 293h1v1h-1zM1206 294h1v1h-1zM1466 294h1v1h-1zM1207 295h1v1h-1zM1465 295h1v1h-1zM1207 296h1v1h-1zM1465 296h1v1h-1zM1207 297h1v1h-1zM1465 297h1v1h-1zM1207 298h1v1h-1zM1465 298h1v1h-1zM1208 299h1v1h-1zM1464 299h1v1h-1zM1208 300h1v1h-1zM1464 300h1v1h-1zM1208 301h1v1h-1zM1464 301h1v1h-1zM1209 302h1v1h-1zM1463 302h1v1h-1zM1209 303h1v1h-1zM1463 303h1v1h-1zM1209 304h1v1h-1zM1463 304h1v1h-1zM1209 305h1v1h-1zM1463 305h1v1h-1zM1210 306h1v1h-1zM1462 306h1v1h-1zM1210 307h1v1h-1zM1462 307h1v1h-1zM1211 308h1v1h-1zM1461 308h1v1h-1zM1211 309h1v1h-1zM1461 309h1v1h-1zM1211 310h1v1h-1zM1461 310h1v1h-1zM1212 311h1v1h-1zM1460 311h1v1h-1zM1212 312h1v1h-1zM1460 312h1v1h-1zM1212 313h1v1h-1zM1460 313h1v1h-1zM1213 314h1v1h-1zM1459 314h1v1h-1zM1213 315h1v1h-1zM1459 315h1v1h-1zM1214 316h1v1h-1zM1458 316h1v1h-1zM1214 317h1v1h-1zM1458 317h1v1h-1zM1215 318h1v1h-1zM1457 318h1v1h-1zM1215 319h1v1h-1zM1457 319h1v1h-1zM1216 320h1v1h-1zM1456 320h1v1h-1zM1216 321h1v1h-1zM1456 321h1v1h-1zM1216 322h1v1h-1zM1456 322h1v1h-1zM1217 323h1v1h-1zM1455 323h1v1h-1zM1217 324h1v1h-1zM1455 324h1v1h-1zM1218 325h1v1h-1zM1454 325h1v1h-1zM1219 326h1v1h-1zM1453 326h1v1h-1zM1219 327h1v1h-1zM1453 327h1v1h-1zM1220 328h1v1h-1zM1452 328h1v1h-1zM1220 329h1v1h-1zM1452 329h1v1h-1zM1221 330h1v1h-1zM1451 330h1v1h-1zM1221 331h1v1h-1zM1451 331h1v1h-1zM1222 332h1v1h-1zM1450 332h1v1h-1zM1223 333h1v1h-1zM1449 333h1v1h-1zM1223 334h1v1h-1zM1449 334h1v1h-1zM1224 335h1v1h-1zM1448 335h1v1h-1zM1224 336h1v1h-1zM1448 336h1v1h-1zM1225 337h1v1h-1zM1447 337h1v1h-1zM1226 338h1v1h-1zM1446 338h1v1h-1zM1226 339h1v1h-1zM1446 339h1v1h-1zM1227 340h1v1h-1zM1445 340h1v1h-1zM1228 341h1v1h-1zM1444 341h1v1h-1zM1229 342h1v1h-1zM1443 342h1v1h-1zM1229 343h1v1h-1zM1443 343h1v1h-1zM1230 344h1v1h-1zM1442 344h1v1h-1zM1231 345h1v1h-1zM1441 345h1v1h-1zM1232 346h1v1h-1zM1440 346h1v1h-1zM1232 347h1v1h-1zM1440 347h1v1h-1zM1233 348h1v1h-1zM1439 348h1v1h-1zM1234 349h1v1h-1zM1438 349h1v1h-1zM1235 350h1v1h-1zM1437 350h1v1h-1zM1236 351h1v1h-1zM1436 351h1v1h-1zM1237 352h1v1h-1zM1435 352h1v1h-1zM1238 353h1v1h-1zM1434 353h1v1h-1zM1239 354h1v1h-1zM1433 354h1v1h-1zM1240 355h1v1h-1zM1432 355h1v1h-1zM1241 356h1v1h-1zM1431 356h1v1h-1zM1241 357h1v1h-1zM1431 357h1v1h-1zM1242 358h2v1h-2zM1429 358h2v1h-2zM1244 359h1v1h-1zM1428 359h1v1h-1zM1245 360h1v1h-1zM1427 360h1v1h-1zM1246 361h1v1h-1zM1426 361h1v1h-1zM1247 362h1v1h-1zM1425 362h1v1h-1zM1248 363h1v1h-1zM1424 363h1v1h-1zM1249 364h1v1h-1zM1423 364h1v1h-1zM1250 365h1v1h-1zM1422 365h1v1h-1zM1251 366h1v1h-1zM1421 366h1v1h-1zM1252 367h2v1h-2zM1419 367h2v1h-2zM1254 368h1v1h-1zM1418 368h1v1h-1zM1255 369h1v1h-1zM1417 369h1v1h-1zM1256 370h2v1h-2zM1415 370h2v1h-2zM1258 371h1v1h-1zM1414 371h1v1h-1zM1259 372h1v1h-1zM1413 372h1v1h-1zM1260 373h2v1h-2zM1411 373h2v1h-2zM1262 374h1v1h-1zM1410 374h1v1h-1zM1263 375h2v1h-2zM1408 375h2v1h-2zM1265 376h2v1h-2zM1406 376h2v1h-2zM1267 377h1v1h-1zM1405 377h1v1h-1zM1268 378h2v1h-2zM1403 378h2v1h-2zM1270 379h2v1h-2zM1401 379h2v1h-2zM1272 380h2v1h-2zM1399 380h2v1h-2zM1274 381h1v1h-1zM1398 381h1v1h-1zM1275 382h2v1h-2zM1396 382h2v1h-2zM1277 383h3v1h-3zM1393 383h3v1h-3zM1280 384h2v1h-2zM1391 384h2v1h-2zM1282 385h2v1h-2zM1389 385h2v1h-2zM1284 386h2v1h-2zM1387 386h2v1h-2zM1286 387h3v1h-3zM1384 387h3v1h-3zM1289 388h3v1h-3zM1381 388h3v1h-3zM1292 389h2v1h-2zM1379 389h2v1h-2zM1294 390h4v1h-4zM1375 390h4v1h-4zM1298 391h3v1h-3zM1372 391h3v1h-3zM1301 392h4v1h-4zM1368 392h4v1h-4zM1305 393h4v1h-4zM1364 393h4v1h-4zM1309 394h6v1h-6zM1358 394h6v1h-6zM1315 395h7v1h-7zM1351 395h7v1h-7zM1322 396h29v1h-29z"/>
<g fill="#f00" shape-rendering="crispEdges">
<rect x="1299" y="249" width="1" height="1"/>
<rect x="1299" y="250" width="1" height="1"/>
<rect x="1299" y="251" width="2" height="1"/>
<rect x="1298" y="252" width="3" height="1"/>
<rect x="1298" y="253" width="3" height="1"/>
<rect x="1298" y="254" width="4" height="1"/>
<rect x="1298" y="255" width="4" height="1"/>
<rect x="1297" y="256" width="6" height="1"/>
<rect x="1290" y="257" width="20" height="1"/>
<rect x="1291" y="258" width="18" height="1"/>
<rect x="1293" y="259" width="14" height="1"/>
<rect x="1294" y="260" width="12" height="1"/>
<rect x="1295" y="261" width="10" height="1"/>
<rect x="1295" y="262" width="10" height="1"/>
<rect x="1295" y="263" width="10" height="1"/>
<rect x="1294" y="264" width="12" height="1"/>
<rect x="1294" y="265" width="4" height="1"/>
<rect x="1301" y="265" width="5" height="1"/>
<rect x="1294" y="266" width="3" height="1"/>
<rect x="1303" y="266" width="3" height="1"/>
<rect x="1293" y="267" width="2" height="1"/>
<rect x="1304" y="267" width="3" height="1"/>
<rect x="1293" y="268" width="1" height="1"/>
<rect x="1306" y="268" width="1" height="1"/>
<rect x="1292" y="269" width="1" height="1"/>
<rect x="1307" y="269" width="1" height="1"/>
<rect x="1361" y="274" width="1" height="1"/>
<rect x="1361" y="275" width="1" height="1"/>
<rect x="1361" y="276" width="1" height="1"/>
<rect x="1361" y="277" width="2" height="1"/>
<rect x="1360" y="278" width="3" height="1"/>
<rect x="1360" y="279" width="3" height="1"/>
<rect x="1360" y="280" width="4" height="1"/>
<rect x="1360" y="281" width="4" height="1"/>
<rect x="1359" y="282" width="6" height="1"/>
<rect x="1352" y="283" width="20" height="1"/>
<rect x="1353" y="284" width="18" height="1"/>
<rect x="1355" y="285" width="14" height="1"/>
<rect x="1356" y="286" width="12" height="1"/>
<rect x="1357" y="287" width="10" height="1"/>
<rect x="1357" y="288" width="10" height="1"/>
<rect x="1357" y="289" width="10" height="1"/>
<rect x="1356" y="290" width="12" height="1"/>
<rect x="1356" y="291" width="4" height="1"/>
<rect x="1363" y="291" width="5" height="1"/>
<rect x="1356" y="292" width="3" height="1"/>
<rect x="1365" y="292" width="3" height="1"/>
<rect x="1355" y="293" width="2" height="1"/>
<rect x="1366" y="293" width="3" height="1"/>
<rect x="1355" y="294" width="1" height="1"/>
<rect x="1368" y="294" width="1" height="1"/>
<rect x="1354" y="295" width="1" height="1"/>
<rect x="1369" y="295" width="1" height="1"/>
<rect x="1459" y="212" width="1" height="1"/>
<rect x="1459" y="213" width="1" height="1"/>
<rect x="1459" y="214" width="2" height="1"/>
<rect x="1458" y="215" width="3" height="1"/>
<rect x="1458" y="216" width="3" height="1"/>
<rect x="1458" y="217" width="4" height="1"/>
<rect x="1458" y="218" width="4" height="1"/>
<rect x="1457" y="219" width="6" height="1"/>
<rect x="1450" y="220" width="20" height="1"/>
<rect x="1451" y="221" width="18" height="1"/>
<rect x="1453" y="222" width="14" height="1"/>
<rect x="1454" y="223" width="12" height="1"/>
<rect x="1455" y="224" width="10" height="1"/>
<rect x="1455" y="225" width="10" height="1"/>
<rect x="1455" y="226" width="10" height="1"/>
<rect x="1455" y="227" width="10" height="1"/>
<rect x="1454" y="228" width="11" height="1"/>
<rect x="1454" y="229" width="4" height="1"/>
<rect x="1461" y="229" width="5" height="1"/>
<rect x="1454" y="230" width="3" height="1"/>
<rect x="1462" y="230" width="4" height="1"/>
<rect x="1453" y="231" width="2" height="1"/>
<rect x="1464" y="231" width="2" height="1"/>
<rect x="1453" y="232" width="1" height="1"/>
<rect x="1465" y="232" width="1" height="1"/>
<rect x="1452" y="233" width="1" height="1"/>
<rect x="1465" y="239" width="1" height="1"/>
<rect x="1465" y="240" width="1" height="1"/>
<rect x="1465" y="241" width="1" height="1"/>
<rect x="1464" y="242" width="3" height="1"/>
<rect x="1464" y="243" width="3" height="1"/>
<rect x="1464" y="244" width="3" height="1"/>
<rect x="1463" y="245" width="5" height="1"/>
<rect x="1463" y="246" width="5" height="1"/>
<rect x="1462" y="247" width="7" height="1"/>
<rect x="1456" y="248" width="19" height="1"/>
<rect x="1457" y="249" width="17" height="1"/>
<rect x="1459" y="250" width="13" height="1"/>
<rect x="1460" y="251" width="11" height="1"/>
<rect x="1461" y="252" width="9" height="1"/>
<rect x="1461" y="253" width="9" height="1"/>
<rect x="1461" y="254" width="9" height="1"/>
<rect x="1460" y="255" width="11" height="1"/>
<rect x="1460" y="256" width="4" height="1"/>
<rect x="1467" y="256" width="4" height="1"/>
<rect x="1460" y="257" width="3" height="1"/>
<rect x="1468" y="257" width="3" height="1"/>
<rect x="1459" y="258" width="2" height="1"/>
<rect x="1470" y="258" width="2" height="1"/>
<rect x="1459" y="259" width="1" height="1"/>
<rect x="1471" y="259" width="1" height="1"/>
<rect x="1458" y="260" width="1" height="1"/>
<rect x="1472" y="260" width="1" height="1"/>
</g>
<text x="1299.5" y="279" font-size="13.3" font-weight="bold" text-anchor="middle" filter="url(#bin)">4182</text>
<text x="1361.5" y="305" font-size="13.3" font-weight="bold" text-anchor="middle" filter="url(#bin)">4180</text>
<text x="1459.5" y="242" font-size="13.3" font-weight="bold" text-anchor="middle" filter="url(#bin)">4171</text>
<text x="1465.5" y="270" font-size="13.3" font-weight="bold" text-anchor="middle" filter="url(#bin)">4186</text>
</svg></body></html>
